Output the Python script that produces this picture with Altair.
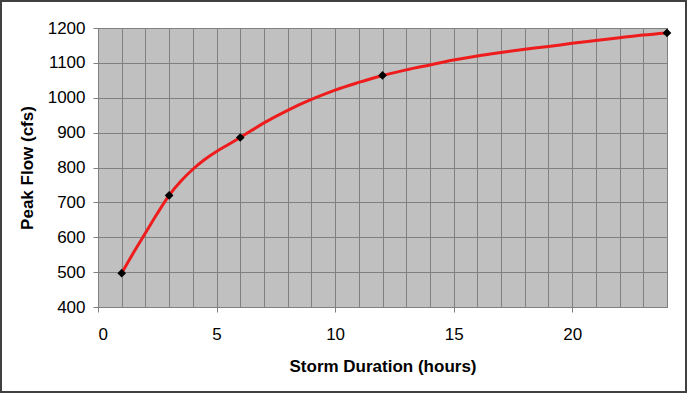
import altair as alt
import pandas as pd

# Smooth curve
curve_x = [1, 1.5, 2, 2.5, 3, 3.5, 4, 4.5, 5, 5.5, 6, 7, 8, 9, 10, 11, 12,
           13, 14, 15, 16, 17, 18, 19, 20, 21, 22, 23, 24]
curve_y = [497, 556, 612, 668, 720, 761, 795, 823, 846, 866, 886, 928, 964, 995,
           1022, 1044, 1064, 1080, 1094, 1108, 1120, 1130, 1139, 1147, 1156,
           1164, 1172, 1180, 1186]

# Marked points
point_x = [1, 3, 6, 12, 24]
point_y = [497, 720, 886, 1064, 1186]

curve = pd.DataFrame({"dur": curve_x, "flow": curve_y})
points = pd.DataFrame({"dur": point_x, "flow": point_y})

FONT = "Liberation Sans"

x_enc = alt.X(
    "dur:Q",
    scale=alt.Scale(domain=[0, 24], nice=False, zero=False),
    axis=alt.Axis(
        values=list(range(0, 25)),
        format="d",
        labelExpr="datum.value % 5 === 0 ? datum.label : ''",
        tickOpacity=alt.expr("datum.value % 5 === 0 ? 1 : 0"),
        title="Storm Duration (hours)",
        labelPadding=14,
        titlePadding=16,
    ),
)
y_enc = alt.Y(
    "flow:Q",
    scale=alt.Scale(domain=[400, 1200], nice=False, zero=False),
    axis=alt.Axis(values=list(range(400, 1201, 100)), format="d",
                  title="Peak Flow (cfs)", labelPadding=8, titlePadding=11),
)

line = alt.Chart(curve).mark_line(
    color="#ee1c1c", strokeWidth=3, interpolate="monotone"
).encode(x=x_enc, y=y_enc)

pts = alt.Chart(points).mark_point(
    shape="diamond", filled=True, color="black", size=75, opacity=1
).encode(x=x_enc, y=y_enc)

frame = alt.Chart(pd.DataFrame({"a": [0]})).mark_rect(
    fill=None, stroke="#404040", strokeWidth=2, clip=False
).encode(
    x=alt.value(-97), x2=alt.value(588),
    y=alt.value(-27), y2=alt.value(364),
)

chart = alt.layer(line, pts, frame).properties(
    width=569,
    height=279,
    autosize=alt.AutoSizeParams(type="none"),
    padding={"left": 98, "top": 28, "right": 20, "bottom": 86},
    background="white",
).configure_view(
    fill="#c0c0c0", stroke="#808080", strokeWidth=1
).configure_axis(
    grid=True,
    gridColor="#808080",
    gridWidth=1,
    gridOpacity=1,
    domainColor="#808080",
    domainWidth=1,
    tickColor="#808080",
    tickSize=5,
    labelFont=FONT,
    labelFontSize=17,
    labelColor="black",
    titleFont=FONT,
    titleFontSize=17,
    titleFontWeight="bold",
    titleColor="black",
)

chart.save("out.html", embed_options={"renderer": "svg", "actions": False})
